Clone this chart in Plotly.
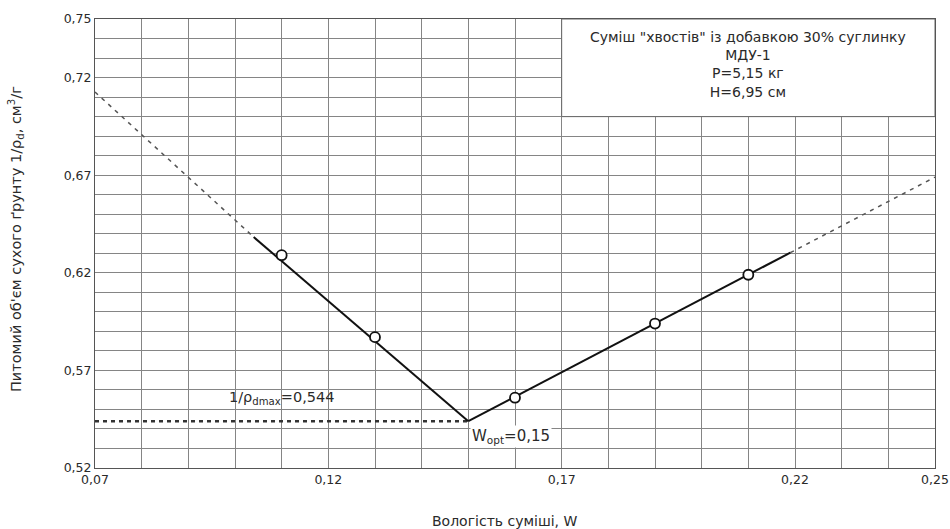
import plotly.graph_objects as go

# Measured points
w_points = [0.11, 0.13, 0.16, 0.19, 0.21]
v_points = [0.629, 0.587, 0.556, 0.594, 0.619]

# Fitted branches (solid) and their dashed extensions
w_left_solid = [0.104, 0.15]
v_left_solid = [0.6383, 0.544]
w_left_dash = [0.07, 0.104]
v_left_dash = [0.7126, 0.6383]

w_right_solid = [0.15, 0.219]
v_right_solid = [0.544, 0.6303]
w_right_dash = [0.219, 0.25]
v_right_dash = [0.6303, 0.669]

# Minimum-volume level
w_min_line = [0.07, 0.15]
v_min_line = [0.544, 0.544]

x_tickvals = [0.07, 0.12, 0.17, 0.22, 0.25]
x_ticktext = ["0,07", "0,12", "0,17", "0,22", "0,25"]
y_tickvals = [0.52, 0.57, 0.62, 0.67, 0.72, 0.75]
y_ticktext = ["0,52", "0,57", "0,62", "0,67", "0,72", "0,75"]

box_lines = ['Суміш "хвостів" із добавкою 30% суглинку', "МДУ-1", "P=5,15 кг", "H=6,95 см"]
x_title = "Вологість суміші, W"
y_title = "Питомий об'єм сухого ґрунту 1/ρ<sub>d</sub>, см<sup>3</sup>/г"

FONT = "DejaVu Sans, Verdana, sans-serif"
TXT = "#2a2a2a"

fig = go.Figure()

fig.add_trace(go.Scatter(x=w_min_line, y=v_min_line, mode="lines",
                         line=dict(color="#333333", width=2.5, dash="4px,4px"),
                         hoverinfo="skip", showlegend=False))
fig.add_trace(go.Scatter(x=w_left_dash, y=v_left_dash, mode="lines",
                         line=dict(color="#555555", width=1.5, dash="4px,5px"),
                         showlegend=False))
fig.add_trace(go.Scatter(x=w_right_dash, y=v_right_dash, mode="lines",
                         line=dict(color="#555555", width=1.5, dash="4px,5px"),
                         showlegend=False))
fig.add_trace(go.Scatter(x=w_left_solid, y=v_left_solid, mode="lines",
                         line=dict(color="#111111", width=2), showlegend=False))
fig.add_trace(go.Scatter(x=w_right_solid, y=v_right_solid, mode="lines",
                         line=dict(color="#111111", width=2), showlegend=False))
fig.add_trace(go.Scatter(x=w_points, y=v_points, mode="markers",
                         marker=dict(symbol="circle", size=10, color="white",
                                     line=dict(color="#111111", width=1.8)),
                         showlegend=False))

# Info box
fig.add_shape(type="rect", x0=0.17, x1=0.25, y0=0.70, y1=0.75, xref="x", yref="y",
              fillcolor="white", line=dict(color="#666666", width=1), layer="above")
fig.add_annotation(x=0.21, y=0.7265, xref="x", yref="y", text="<br>".join(box_lines),
                   showarrow=False, font=dict(family=FONT, size=14, color=TXT),
                   align="center", xanchor="center", yanchor="middle")

fig.add_annotation(x=0.0983, y=0.5558, xref="x", yref="y", xanchor="left",
                   text="1/ρ<sub>dmax</sub>=0,544", showarrow=False,
                   font=dict(family=FONT, size=14.5, color=TXT))
fig.add_annotation(x=0.1503, y=0.5362, xref="x", yref="y", xanchor="left",
                   text="W<sub>opt</sub>=0,15", showarrow=False, bgcolor="white",
                   font=dict(family=FONT, size=15, color=TXT))

# Axis titles
fig.add_annotation(x=0.488, y=-0.118, xref="paper", yref="paper", text=x_title,
                   xanchor="center", yanchor="middle",
                   showarrow=False, font=dict(family=FONT, size=14, color=TXT))
fig.add_annotation(x=-0.094, y=0.51, xref="paper", yref="paper", text=y_title,
                   xanchor="center", yanchor="middle",
                   textangle=-90, showarrow=False, font=dict(family=FONT, size=14.5, color=TXT))

fig.update_layout(
    width=950, height=529,
    margin=dict(l=95, r=15, t=19, b=61),
    paper_bgcolor="white", plot_bgcolor="white",
    font=dict(family=FONT, size=12, color=TXT),
    showlegend=False,
)
fig.update_xaxes(range=[0.07, 0.25], tickvals=x_tickvals, ticktext=x_ticktext,
                 showgrid=False, zeroline=False, automargin=False,
                 showline=True, linecolor="#555555", linewidth=1, mirror=True,
                 ticks="", tickfont=dict(family=FONT, size=12.5, color=TXT),
                 minor=dict(dtick=0.01, tick0=0.07, showgrid=True, gridcolor="#858585", gridwidth=1))
fig.update_yaxes(range=[0.52, 0.75], tickvals=y_tickvals, ticktext=y_ticktext,
                 showgrid=False, zeroline=False, automargin=False,
                 showline=True, linecolor="#555555", linewidth=1, mirror=True,
                 ticks="", tickfont=dict(family=FONT, size=12.5, color=TXT),
                 minor=dict(dtick=0.01, tick0=0.52, showgrid=True, gridcolor="#858585", gridwidth=1))

fig.write_html("out.html", config={"displayModeBar": False},
               post_script="document.body.style.margin='0';document.body.style.overflow='hidden';")
